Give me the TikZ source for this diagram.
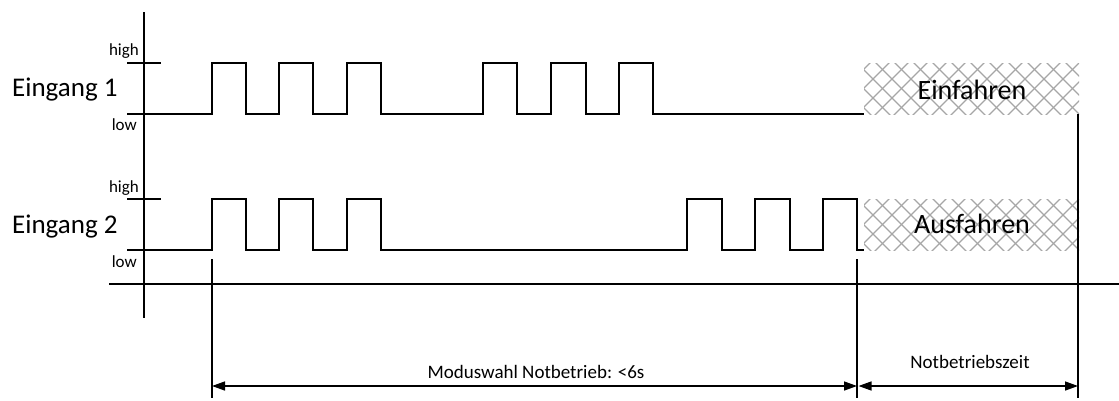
\documentclass[tikz,border=0pt]{standalone}
\usepackage{fontspec}
\setmainfont{Carlito}
\usetikzlibrary{arrows.meta}
\begin{document}
\begin{tikzpicture}[x=1pt,y=-1pt,
  sig/.style={line width=1.5pt,line join=miter},
  axisline/.style={line width=1.4pt},
  hatchline/.style={line width=1.1pt,color=black!35},
  dimarrow/.style={line width=1.4pt,{Triangle[length=13pt,width=9pt]}-{Triangle[length=13pt,width=9pt]}},
  biglabel/.style={inner sep=0pt,font=\fontsize{27}{30}\selectfont},
  boxlabel/.style={inner sep=0pt,font=\fontsize{28}{31}\selectfont},
  smalllabel/.style={inner sep=0pt,font=\fontsize{17}{19}\selectfont},
  dimlabel/.style={inner sep=0pt,font=\fontsize{19}{21}\selectfont}]
\useasboundingbox (0,0) rectangle (1119,400);

% hatched boxes
\foreach \yt/\yb/\nm in {63/114/einbox,199/250/ausbox}{
  \begin{scope}
    \clip (864,\yt) rectangle (1079,\yb);
    \foreach \c in {780,799,...,1100}{
      \draw[hatchline] (\c,\yt-20) -- ++(90,90);
      \draw[hatchline] (\c,\yb+20) -- ++(90,-90);
    }
  \end{scope}
}
\coordinate (einc) at (971.5,88.5);
\coordinate (ausc) at (971.5,224.5);

% axes
\draw[axisline] (144,12) -- (144,318);
\draw[axisline] (109,284) -- (1119,284);
% high ticks
\draw[axisline] (127,63) -- (161,63);
\draw[axisline] (127,199) -- (161,199);

% Eingang 1 signal
\draw[sig] (127,114) -- (212,114) -- (212,63) -- (246,63) -- (246,114)
  -- (279,114) -- (279,63) -- (313,63) -- (313,114)
  -- (347,114) -- (347,63) -- (381,63) -- (381,114)
  -- (483,114) -- (483,63) -- (517,63) -- (517,114)
  -- (551,114) -- (551,63) -- (586,63) -- (586,114)
  -- (619,114) -- (619,63) -- (653,63) -- (653,114) -- (864,114);

% Eingang 2 signal
\draw[sig] (127,250) -- (212,250) -- (212,199) -- (246,199) -- (246,250)
  -- (279,250) -- (279,199) -- (313,199) -- (313,250)
  -- (347,250) -- (347,199) -- (381,199) -- (381,250)
  -- (687,250) -- (687,199) -- (722,199) -- (722,250)
  -- (755,250) -- (755,199) -- (790,199) -- (790,250)
  -- (823,250) -- (823,199) -- (857,199) -- (857,250) -- (864,250);

% vertical markers
\coordinate (m1top) at (212,259);
\coordinate (m1bot) at (212,398);
\coordinate (m2top) at (857,259);
\coordinate (m2bot) at (857,398);
\coordinate (m3top) at (1078,114);
\coordinate (m3bot) at (1078,398);
\draw[axisline] (m1top) -- (m1bot);
\draw[axisline] (m2top) -- (m2bot);
\draw[axisline] (m3top) -- (m3bot);

% dimension arrows
\coordinate (a1) at (212,386);
\coordinate (a2) at (857,386);
\coordinate (a3) at (1078,386);
\draw[dimarrow] (a1) -- (a2);
\draw[dimarrow] ([xshift=1.5pt]a2) -- (a3);

% labels
\node[biglabel,anchor=base west] (e1) at (12,96) {Eingang 1};
\node[biglabel,anchor=base west] (e2) at (12,233) {Eingang 2};
\node[smalllabel,anchor=base east] (h1) at (139,55) {high};
\node[smalllabel,anchor=base east] (l1) at (137,130) {low};
\node[smalllabel,anchor=base east] (h2) at (139,192) {high};
\node[smalllabel,anchor=base east] (l2) at (137,267) {low};
\node[boxlabel,anchor=base] (ein) at (972,99) {Einfahren};
\node[boxlabel,anchor=base] (aus) at (972,233) {Ausfahren};
\node[dimlabel,anchor=base] (mod) at (536,378) {Moduswahl Notbetrieb: <6s};
\node[dimlabel,anchor=base] (nbz) at (970,368) {Notbetriebszeit};
\end{tikzpicture}
\end{document}
